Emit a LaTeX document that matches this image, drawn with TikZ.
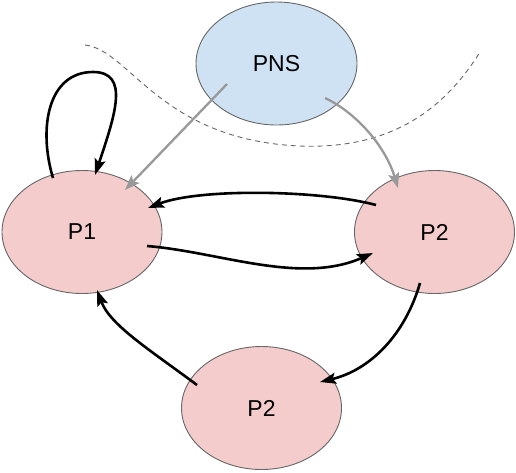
\documentclass[tikz,border=0pt]{standalone}
\usepackage{fontspec}
\setmainfont{Liberation Sans}
\usetikzlibrary{shapes.geometric,arrows.meta}
\definecolor{nodeblue}{HTML}{CFE2F3}
\definecolor{nodepink}{HTML}{F4CCCC}
\definecolor{rim}{HTML}{666666}
\definecolor{grayarrow}{HTML}{999999}
\begin{document}
\begin{tikzpicture}[x=1pt,y=-1pt,
  state/.style={ellipse, draw=rim, line width=0.9pt, inner sep=0pt, text=black, font=\fontsize{23}{27}\selectfont},
  pns/.style={state, fill=nodeblue, minimum width=161pt, minimum height=123pt},
  proc/.style={state, fill=nodepink, minimum width=160pt, minimum height=123pt},
  flow/.style={line width=2.6pt, black, -{Stealth[length=16pt,width=11pt,inset=3pt]}},
  feed/.style={line width=2.3pt, grayarrow, -{Stealth[length=15pt,width=11pt,inset=3pt]}},
  boundary/.style={rim, line width=0.9pt, dash pattern=on 5pt off 4pt}]
\useasboundingbox (0,0) rectangle (516,472);

% dashed boundary
\draw[boundary] (85,45) .. controls (130,50) and (160,140) .. (300,146)
                        .. controls (400,150) and (450,100) .. (480,52);

% nodes
\node[pns]  (PNS) at (276.5,63.5) {PNS};
\node[proc] (P1)  at (82,232)    {P1};
\node[proc] (P2r) at (434.5,232) {P2};
\node[proc] (P2b) at (261.5,408) {P2};

\coordinate (looptop) at (93,72);

% self loop on P1
\draw[flow] ([shift={(-29,-54)}]P1.center) .. controls +(-15,-50) and +(-45,0) .. (looptop)
            .. controls +(37,0) and +(20,-60) .. ([shift={(13,-57)}]P1.center);

% gray arrows from PNS
\draw[feed] ([shift={(-49.5,20.5)}]PNS.center) -- ([shift={(43,-42)}]P1.center);
\draw[feed] ([shift={(48.5,34.5)}]PNS.center) .. controls +(30,14) and +(-13,-43) .. ([shift={(-36.5,-44)}]P2r.center);

% black arrows
\draw[flow] ([shift={(-58.5,-27)}]P2r.center) .. controls +(-56,-15) and +(52,-20) .. ([shift={(66,-24)}]P1.center);
\draw[flow] ([shift={(65,14)}]P1.center) .. controls +(73,6) and +(-73,32) .. ([shift={(-61.5,21)}]P2r.center);
\draw[flow] ([shift={(-14.5,51)}]P2r.center) .. controls +(-15,52) and +(50,-12) .. ([shift={(58.5,-26)}]P2b.center);
\draw[flow] ([shift={(-64.5,-23)}]P2b.center) .. controls +(-47,-35) and +(13,35) .. ([shift={(15,58)}]P1.center);
\end{tikzpicture}
\end{document}
